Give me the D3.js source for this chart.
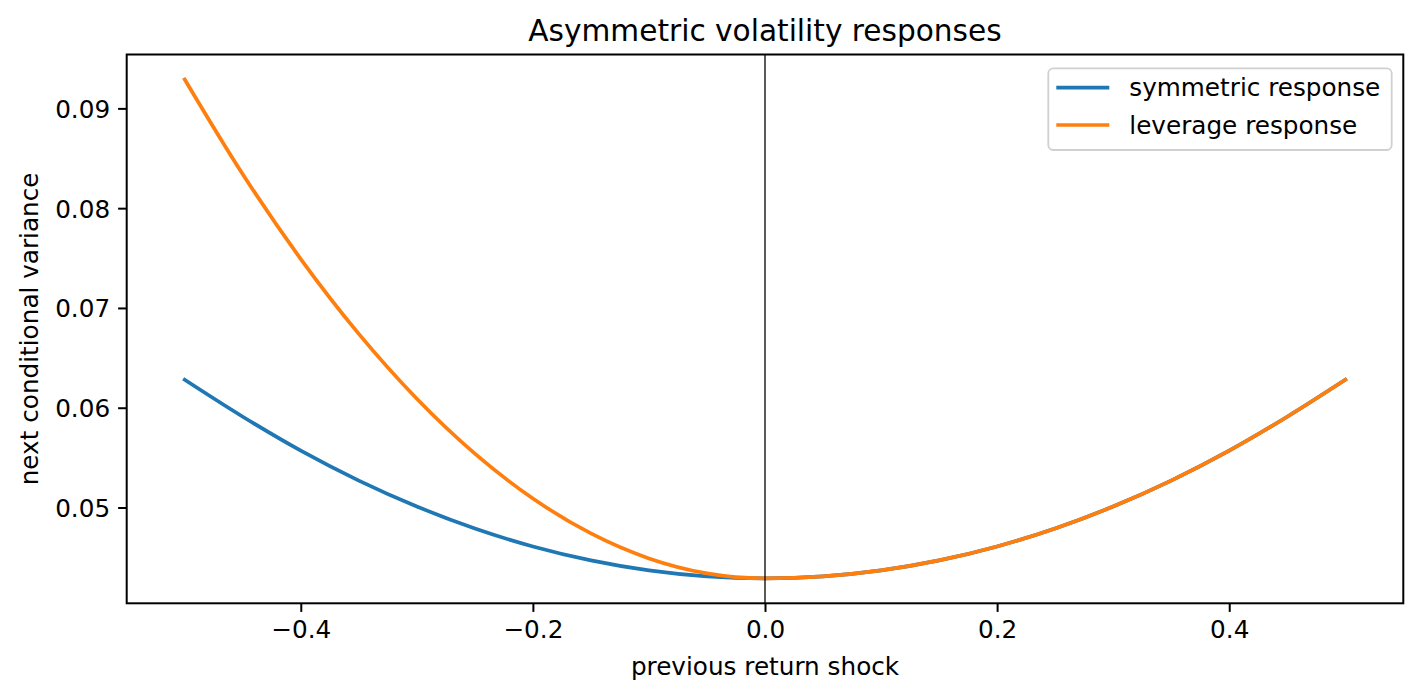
<!DOCTYPE html>
<html>
<head>
<meta charset="utf-8">
<script src="https://cdn.jsdelivr.net/npm/d3@7"></script>
<style>
  body { margin: 0; background: #fff; }
  text { font-family: "DejaVu Sans", sans-serif; fill: #000; }
</style>
</head>
<body>
<script>
// data
var shocks = [-0.5, -0.45, -0.4, -0.35, -0.3, -0.25, -0.2, -0.15, -0.1, -0.05, 0,
  0.05, 0.1, 0.15, 0.2, 0.25, 0.3, 0.35, 0.4, 0.45, 0.5];
var symmetric = [0.0628, 0.0591, 0.0557, 0.0527, 0.0501, 0.0479, 0.0461, 0.0447, 0.0437, 0.0431, 0.0429,
  0.0431, 0.0437, 0.0447, 0.0461, 0.0479, 0.0501, 0.0527, 0.0557, 0.0591, 0.0628];
var leverage = [0.0929, 0.0834, 0.0749, 0.0674, 0.0609, 0.0554, 0.0509, 0.0474, 0.0449, 0.0434, 0.0429,
  0.0431, 0.0437, 0.0447, 0.0461, 0.0479, 0.0501, 0.0527, 0.0557, 0.0591, 0.0628];
var seriesNames = ["symmetric response", "leverage response"];
var seriesColors = ["#1f77b4", "#ff7f0e"];
var xTicks = [-0.4, -0.2, 0.0, 0.2, 0.4];
var yTicks = [0.05, 0.06, 0.07, 0.08, 0.09];

var svgWidth = 1421;
var svgHeight = 700;
var margin = { top: 54.5, right: 17.7, bottom: 96.7, left: 126.7 };
var width = svgWidth - margin.left - margin.right;
var height = svgHeight - margin.top - margin.bottom;

var svg = d3.select("body")
  .append("svg")
  .attr("width", svgWidth)
  .attr("height", svgHeight);

var chartGroup = svg.append("g")
  .attr("transform", `translate(${margin.left}, ${margin.top})`);

// matplotlib style 5% padding
var xScale = d3.scaleLinear().domain([-0.55, 0.55]).range([0, width]);
var yMin = d3.min(symmetric.concat(leverage));
var yMax = d3.max(symmetric.concat(leverage));
var pad = (yMax - yMin) * 0.05;
var yScale = d3.scaleLinear().domain([yMin - pad, yMax + pad]).range([height, 0]);

var fmtX = function (d) { return d3.format(".1f")(d).replace("-", "\u2212"); };

var bottomAxis = d3.axisBottom(xScale).tickValues(xTicks).tickFormat(fmtX)
  .tickSize(8.6).tickPadding(8);
var leftAxis = d3.axisLeft(yScale).tickValues(yTicks).tickFormat(d3.format(".2f"))
  .tickSize(8.6).tickPadding(8);

var xAxisG = chartGroup.append("g")
  .attr("transform", `translate(0, ${height})`)
  .call(bottomAxis);
var yAxisG = chartGroup.append("g").call(leftAxis);

[xAxisG, yAxisG].forEach(function (g) {
  g.select(".domain").remove();
  g.selectAll(".tick line").attr("stroke", "#000").attr("stroke-width", 2);
  g.selectAll(".tick text").style("font-size", "24.7px").style("font-family", "DejaVu Sans");
});
xAxisG.selectAll(".tick text").attr("dy", "0.75em");
yAxisG.selectAll(".tick text").attr("dy", "0.36em");

// lines
var line = d3.line()
  .x(function (d) { return xScale(d[0]); })
  .y(function (d) { return yScale(d[1]); })
  .curve(d3.curveMonotoneX);

[symmetric, leverage].forEach(function (vals, i) {
  chartGroup.append("path")
    .datum(shocks.map(function (s, j) { return [s, vals[j]]; }))
    .attr("fill", "none")
    .attr("stroke", seriesColors[i])
    .attr("stroke-width", 3.7)
    .attr("stroke-linecap", "square")
    .attr("d", line);
});

// zero line
chartGroup.append("line")
  .attr("x1", xScale(0)).attr("x2", xScale(0))
  .attr("y1", 0).attr("y2", height)
  .attr("stroke", "#000")
  .attr("stroke-opacity", 0.65)
  .attr("stroke-width", 2);

// frame
chartGroup.append("rect")
  .attr("width", width).attr("height", height)
  .attr("fill", "none")
  .attr("stroke", "#000")
  .attr("stroke-width", 2);

// legend
var legend = chartGroup.append("g")
  .attr("transform", `translate(${1048.3 - margin.left}, ${68.3 - margin.top})`);
legend.append("rect")
  .attr("width", 343.4).attr("height", 81.7)
  .attr("rx", 5).attr("ry", 5)
  .attr("fill", "#fff").attr("fill-opacity", 0.8)
  .attr("stroke", "#d0d0d0").attr("stroke-width", 1.8);
seriesNames.forEach(function (name, i) {
  var yy = 19.4 + i * 37.3;
  legend.append("line")
    .attr("x1", 8).attr("x2", 61)
    .attr("y1", yy).attr("y2", yy)
    .attr("stroke", seriesColors[i])
    .attr("stroke-width", 3.7);
  legend.append("text")
    .attr("x", 81).attr("y", yy + 8.6)
    .style("font-size", "24.7px")
    .text(name);
});

// title and labels
svg.append("text")
  .attr("x", margin.left + width / 2).attr("y", 41)
  .attr("text-anchor", "middle")
  .style("font-size", "29.6px")
  .text("Asymmetric volatility responses");

svg.append("text")
  .attr("x", margin.left + width / 2).attr("y", 675)
  .attr("text-anchor", "middle")
  .style("font-size", "24.7px")
  .text("previous return shock");

svg.append("text")
  .attr("transform", `translate(37.5, ${margin.top + height / 2}) rotate(-90)`)
  .attr("text-anchor", "middle")
  .style("font-size", "24.7px")
  .text("next conditional variance");
</script>
</body>
</html>
